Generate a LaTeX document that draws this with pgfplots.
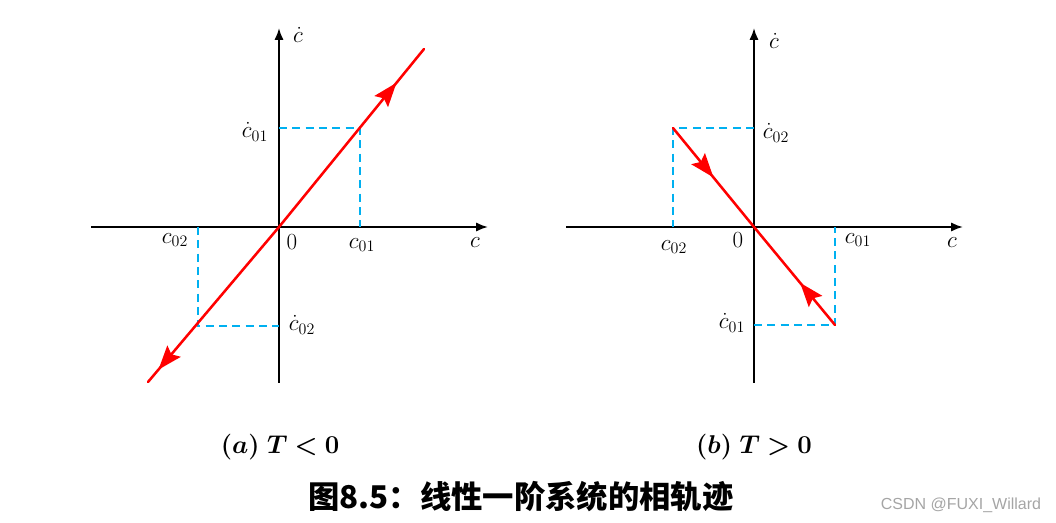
\documentclass[border=0pt]{standalone}
\usepackage{pgfplots}
\pgfplotsset{compat=1.18}
\usepackage{fontspec}
\usepackage{bm}
\usetikzlibrary{arrows.meta,decorations.markings}
\newfontfamily\cjk{Noto Sans CJK SC}
\newfontfamily\wm{Liberation Sans}
\definecolor{dblue}{RGB}{0,176,240}
\definecolor{wmgray}{RGB}{165,165,165}
\tikzset{lab/.style={font=\fontsize{18}{18}\selectfont, inner sep=0pt},
  bigtip/.style={decoration={markings, mark=at position #1 with {\arrow{Stealth[length=18pt,width=13pt,inset=3pt]}}}, postaction={decorate}}}
\begin{document}
\begin{tikzpicture}
\path (0,0) rectangle (792pt,-392.25pt);
\pgfplotsset{
 phase/.style={x=0.75pt,y=0.75pt,xmin=-188,xmax=209,ymin=-156,ymax=199,
   axis lines=middle,xtick=\empty,ytick=\empty,anchor=origin,clip=false,
   axis line style={black,line width=1.5pt,-{Latex[length=9pt,width=7pt]}}},
 traj/.style={red,line width=1.9pt,no marks,line cap=round},
 proj/.style={dblue,line width=1.1pt,dash pattern=on 6pt off 4pt,no marks},
}
% (a) T<0
\begin{axis}[phase, at={(209.25pt,-170.25pt)}]
\addplot[proj] coordinates {(0,99) (81,99) (81,0)};
\addplot[proj] coordinates {(-81,0) (-81,-99) (0,-99)};
\addplot[traj, bigtip=0.81] coordinates {(0,0) (145,178)};
\addplot[traj, bigtip=0.92] coordinates {(0,0) (-131,-155)};
\node[lab] at (axis cs:19,192) {$\dot{c}$};
\node[lab] at (axis cs:-24,95) {$\dot{c}_{01}$};
\node[lab] at (axis cs:83,-18) {$c_{01}$};
\node[lab] at (axis cs:-104,-13) {$c_{02}$};
\node[lab] at (axis cs:13,-15) {$0$};
\node[lab] at (axis cs:196,-16) {$c$};
\node[lab] at (axis cs:23,-98) {$\dot{c}_{02}$};
\end{axis}
% (b) T>0
\begin{axis}[phase, at={(565.5pt,-170.25pt)}]
\addplot[proj] coordinates {(0,99) (-81,99) (-81,0)};
\addplot[proj] coordinates {(0,-98) (81,-98) (81,0)};
\addplot[traj, bigtip=0.5] coordinates {(-81,99) (0,0)};
\addplot[traj, bigtip=0.43] coordinates {(81,-98) (0,0)};
\node[lab] at (axis cs:20,186) {$\dot{c}$};
\node[lab] at (axis cs:22,94) {$\dot{c}_{02}$};
\node[lab] at (axis cs:104,-13) {$c_{01}$};
\node[lab] at (axis cs:-80,-20) {$c_{02}$};
\node[lab] at (axis cs:-16,-13) {$0$};
\node[lab] at (axis cs:198,-16) {$c$};
\node[lab] at (axis cs:-22,-96) {$\dot{c}_{01}$};
\end{axis}
\node[font=\fontsize{20}{20}\selectfont, scale=0.93] at (210pt,-335.25pt) {$\bm{(a)\ T<0}$};
\node[font=\fontsize{20}{20}\selectfont, scale=0.93] at (565.5pt,-335.25pt) {$\bm{(b)\ T>0}$};
\node[font=\cjk\bfseries\fontsize{23.5}{23.5}\selectfont] at (390.75pt,-372.75pt) {图8.5：线性一阶系统的相轨迹};
\node[font=\wm\fontsize{12}{12}\selectfont, text=wmgray] at (720.75pt,-378.75pt) {CSDN @FUXI\_Willard};
\end{tikzpicture}
\end{document}
